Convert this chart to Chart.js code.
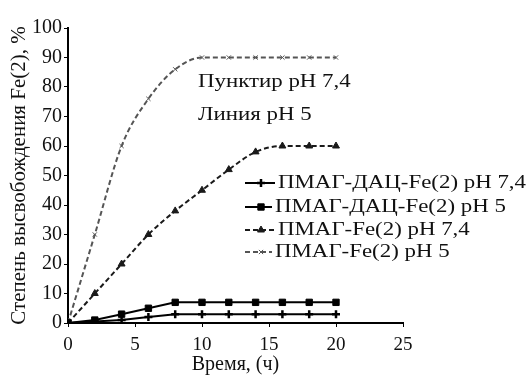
<!DOCTYPE html>
<html>
<head>
<meta charset="utf-8">
<script src="https://cdn.jsdelivr.net/npm/chart.js@4/dist/chart.umd.min.js"></script>
<style>
  html, body { margin: 0; padding: 0; background: #fff; }
  #wrap { width: 528px; height: 378px; }
</style>
</head>
<body>
<div id="wrap"><canvas id="releaseChart" width="528" height="378"></canvas></div>
<script>
// Time points (h) and release degree (%)
const hours = [0, 2, 4, 6, 8, 10, 12, 14, 16, 18, 20];
const dacPh74 = [0, 0.5, 1, 2, 3, 3, 3, 3, 3, 3, 3];
const dacPh5 = [0, 1, 3, 5, 7, 7, 7, 7, 7, 7, 7];
const fePh74 = [0, 10, 20, 30, 38, 45, 52, 58, 60, 60, 60];
const fePh5 = [0, 30, 60, 76, 86, 90, 90, 90, 90, 90, 90];
const seriesLabels = ['ПМАГ-ДАЦ-Fe(2) pH 7,4', 'ПМАГ-ДАЦ-Fe(2) pH 5', 'ПМАГ-Fe(2) pH 7,4', 'ПМАГ-Fe(2) pH 5'];
const notes = ['Пунктир pH 7,4', 'Линия pH 5'];

const FONT = '"Liberation Serif", "Times New Roman", serif';

function pts(vals) {
    return vals.map((v, i) => ({ x: hours[i], y: v }));
}

// the source picture is stretched sideways, so the overlay text is too
function wideText(ctx, text, x, y, sx) {
    ctx.save();
    ctx.translate(x, y);
    ctx.scale(sx, 1);
    ctx.fillText(text, 0, 0);
    ctx.restore();
}

// legend + text notes drawn inside the plot
const overlay = {
    id: 'overlay',
    afterDraw(chart) {
        const ctx = chart.ctx;
        ctx.save();
        ctx.font = '18px ' + FONT;
        ctx.fillStyle = '#111';
        ctx.textBaseline = 'middle';
        const sx = 248 / ctx.measureText(seriesLabels[0]).width;
        wideText(ctx, notes[0], 198, 82, sx);
        wideText(ctx, notes[1], 198, 115, sx);

        const rows = [183, 207, 230, 252];
        const textX = [278, 275, 278, 275];
        chart.data.datasets.forEach((ds, i) => {
            const y = rows[i];
            ctx.strokeStyle = ds.borderColor;
            ctx.fillStyle = ds.backgroundColor;
            ctx.lineWidth = ds.borderWidth;
            ctx.setLineDash(ds.borderDash || []);
            ctx.beginPath();
            ctx.moveTo(245, y);
            ctx.lineTo(textX[i] - 3, y);
            ctx.stroke();
            ctx.setLineDash([]);
            ctx.lineWidth = ds.pointBorderWidth || 1;
            Chart.helpers.drawPoint(ctx, {
                pointStyle: ds.pointStyle,
                radius: ds.pointRadius,
                borderWidth: ds.pointBorderWidth || 1
            }, 261, y);
            ctx.fillStyle = '#111';
            wideText(ctx, ds.label, textX[i], y, sx);
        });
        ctx.restore();
    }
};

const ctx = document.getElementById('releaseChart').getContext('2d');
new Chart(ctx, {
    type: 'line',
    data: {
        datasets: [
            {
                label: seriesLabels[0], data: pts(dacPh74),
                borderColor: '#000', backgroundColor: '#000', borderWidth: 2,
                pointStyle: 'cross', pointRadius: 4, pointBorderWidth: 2.5,
                tension: 0
            },
            {
                label: seriesLabels[1], data: pts(dacPh5),
                borderColor: '#000', backgroundColor: '#000', borderWidth: 2,
                pointStyle: 'rect', pointRadius: 4.5, pointBorderWidth: 1,
                tension: 0
            },
            {
                label: seriesLabels[2], data: pts(fePh74),
                borderColor: '#1a1a1a', backgroundColor: '#1a1a1a', borderWidth: 2,
                borderDash: [5, 3],
                pointStyle: 'triangle', pointRadius: 4, pointBorderWidth: 1,
                cubicInterpolationMode: 'monotone'
            },
            {
                label: seriesLabels[3], data: pts(fePh5),
                borderColor: '#555', backgroundColor: '#777', borderWidth: 2,
                borderDash: [5, 3],
                pointStyle: 'crossRot', pointRadius: 3, pointBorderWidth: 1,
                cubicInterpolationMode: 'monotone'
            }
        ]
    },
    options: {
        responsive: false,
        animation: false,
        layout: { padding: { left: 0, top: 28, right: 125, bottom: 0 } },
        plugins: {
            legend: { display: false },
            tooltip: { enabled: false }
        },
        scales: {
            x: {
                type: 'linear', min: 0, max: 25,
                ticks: { stepSize: 5, color: '#111', font: { family: FONT, size: 19 }, padding: 7 },
                grid: { drawOnChartArea: false, drawTicks: true, tickLength: 4, color: '#000' },
                border: { color: '#000', width: 2 },
                title: { display: true, text: 'Время, (ч)', color: '#111', font: { family: FONT, size: 20 }, padding: { top: 0, bottom: 1 } },
                afterFit(scale) { scale.height = 55; }
            },
            y: {
                min: 0, max: 100,
                ticks: { stepSize: 10, color: '#111', font: { family: FONT, size: 20 }, padding: 2 },
                grid: { drawOnChartArea: false, drawTicks: true, tickLength: 4, color: '#000' },
                border: { color: '#000', width: 2 },
                title: { display: true, text: 'Степень высвобождения Fe(2), %', color: '#111', font: { family: FONT, size: 21 }, padding: { top: 7, bottom: 0 } },
                afterFit(scale) { scale.width = 68; }
            }
        }
    },
    plugins: [overlay]
});
</script>
</body>
</html>
